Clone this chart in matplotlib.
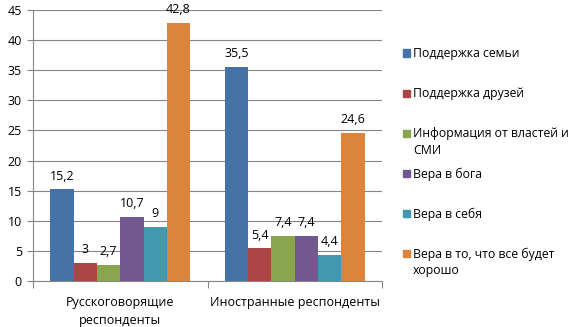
import numpy as np
import matplotlib
matplotlib.use("Agg")
import matplotlib.pyplot as plt
from matplotlib.patches import Rectangle

plt.rcParams['font.family'] = ['Open Sans', 'DejaVu Sans']

categories = ["Русскоговорящие\nреспонденты", "Иностранные респонденты"]
series_names = [
    "Поддержка семьи",
    "Поддержка друзей",
    "Информация от властей и\nСМИ",
    "Вера в бога",
    "Вера в себя",
    "Вера в то, что все будет\nхорошо",
]
values = [
    [15.2, 35.5],
    [3, 5.4],
    [2.7, 7.4],
    [10.7, 7.4],
    [9, 4.4],
    [42.8, 24.6],
]
labels = [
    ["15,2", "35,5"],
    ["3", "5,4"],
    ["2,7", "7,4"],
    ["10,7", "7,4"],
    ["9", "4,4"],
    ["42,8", "24,6"],
]
colors = ["#4572A7", "#AA4643", "#89A54E", "#71588F", "#4198AF", "#DB843D"]

W, H = 573, 327
fig = plt.figure(figsize=(W / 100, H / 100), dpi=100)
ax = fig.add_axes([33 / W, 1 - 281 / H, (382 - 33) / W, (281 - 10) / H])

FS = 9
x = np.arange(len(categories))
n = len(series_names)
w = 0.8 / n
for i in range(n):
    pos = x - 0.4 + w * (i + 0.5)
    bars = ax.bar(pos, values[i], width=w, color=colors[i], zorder=3)
    for b, lab in zip(bars, labels[i]):
        ax.annotate(lab, (b.get_x() + b.get_width() / 2, b.get_height()),
                    xytext=(0, 5), textcoords="offset points",
                    ha="center", va="bottom", fontsize=FS, color="black")

ax.set_xlim(-0.5, len(categories) - 0.5)
ax.set_ylim(0, 45)
ax.set_yticks(np.arange(0, 46, 5))
ax.yaxis.grid(True, color="#868686", linewidth=0.8, zorder=0)
ax.set_axisbelow(True)

ax.set_xticks([-0.5, 0.5, 1.5])
ax.set_xticklabels([])
ax.set_xticks(x, minor=True)
ax.set_xticklabels(categories, minor=True, fontsize=FS, linespacing=1.45)
ax.tick_params(axis="x", which="minor", length=0, pad=11)
ax.tick_params(axis="x", which="major", length=5, color="#868686")
ax.tick_params(axis="y", length=4, color="#868686", labelsize=FS, pad=4)

for s in ["top", "right"]:
    ax.spines[s].set_visible(False)
for s in ["left", "bottom"]:
    ax.spines[s].set_color("#868686")

# legend with fixed slots, like Excel
for i, name in enumerate(series_names):
    yc = 55 + 40 * i
    fig.patches.append(Rectangle((403 / W, 1 - (yc + 1.5) / H), 7 / W, 7 / H,
                                 transform=fig.transFigure, color=colors[i]))
    fig.text(413 / W, 1 - (yc - 7.5) / H, name, ha="left", va="top",
             fontsize=8.8, linespacing=1.35)

fig.savefig("out.png", dpi=100)
